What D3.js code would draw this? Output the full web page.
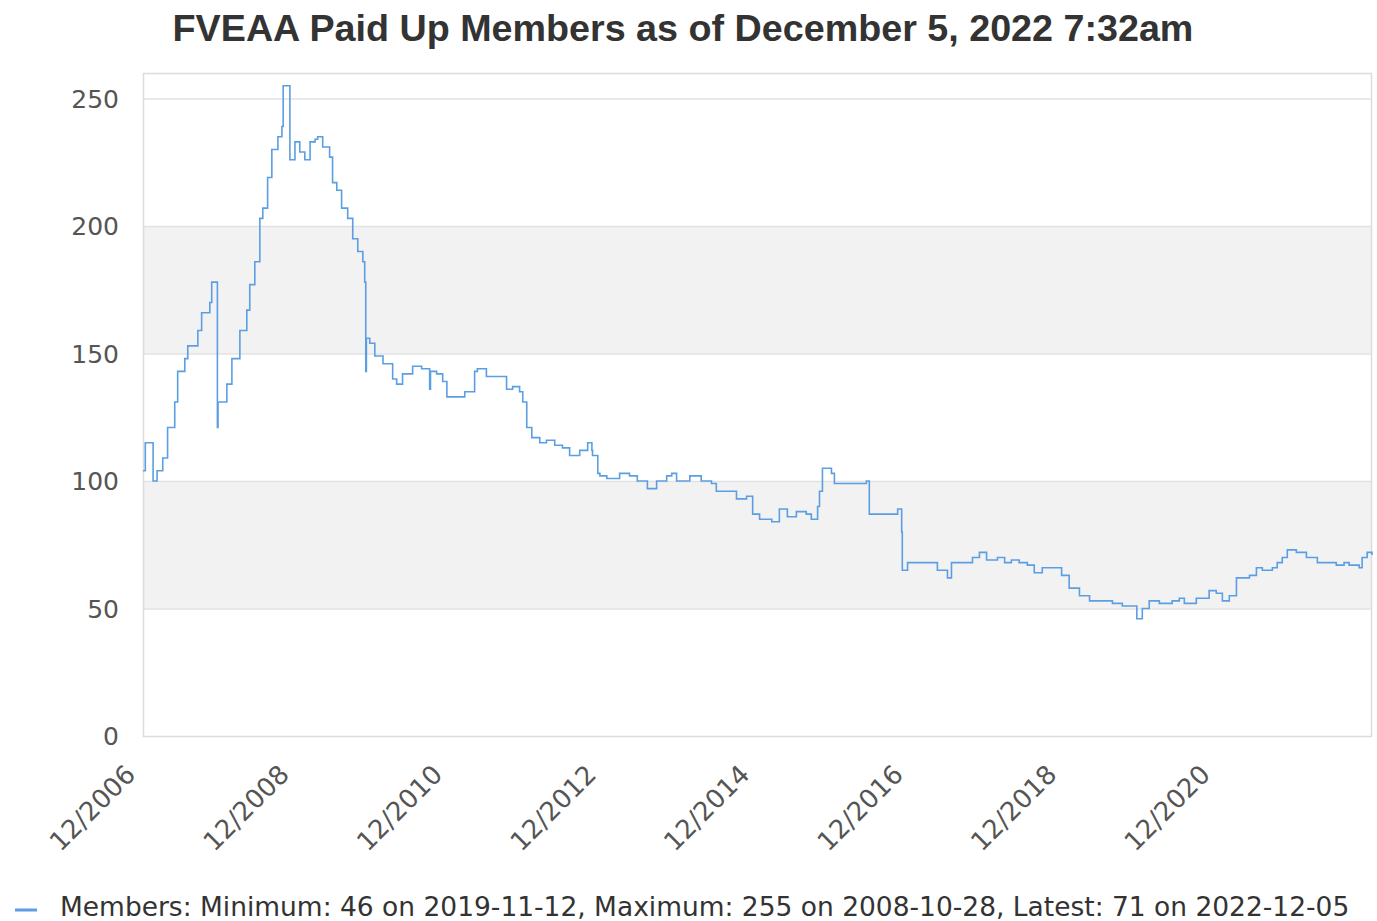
<!DOCTYPE html>
<html>
<head>
<meta charset="utf-8">
<script src="https://cdn.jsdelivr.net/npm/d3@7/dist/d3.min.js"></script>
<style>
  html, body { margin: 0; padding: 0; background: #fff; }
  svg { display: block; }
</style>
</head>
<body>
<svg id="chart" width="1377" height="921"></svg>
<script>
const titleText = "FVEAA Paid Up Members as of December 5, 2022 7:32am";
const legendText = "Members: Minimum: 46 on 2019-11-12, Maximum: 255 on 2008-10-28, Latest: 71 on 2022-12-05";

const dates = [
"2006-12-01","2006-12-10","2006-12-12","2006-12-20","2007-01-12","2007-01-18","2007-02-06","2007-03-05","2007-03-28","2007-05-01",
"2007-05-15","2007-06-18","2007-07-02","2007-08-19","2007-09-06","2007-10-15","2007-10-24","2007-11-18","2007-11-20","2007-11-23",
"2008-01-04","2008-01-28","2008-03-06","2008-04-08","2008-04-22","2008-05-16","2008-06-09","2008-06-23","2008-07-16","2008-08-05",
"2008-09-03","2008-09-22","2008-09-28","2008-10-28","2008-10-30","2008-11-23","2008-12-16","2009-01-09","2009-02-03","2009-02-27",
"2009-03-11","2009-04-04","2009-05-07","2009-05-21","2009-06-10","2009-07-03","2009-08-01","2009-08-25","2009-09-18","2009-10-12",
"2009-10-21","2009-10-26","2009-10-29","2009-11-14","2009-12-08","2010-01-16","2010-03-03","2010-03-22","2010-04-19","2010-06-06",
"2010-07-19","2010-08-16","2010-08-26","2010-08-30","2010-09-28","2010-10-27","2010-11-16","2011-01-02","2011-02-09","2011-03-03",
"2011-03-28","2011-04-10","2011-05-23","2011-07-10","2011-08-27","2011-09-25","2011-10-28","2011-11-12","2011-12-01","2011-12-25",
"2012-02-01","2012-03-04","2012-04-12","2012-05-19","2012-06-22","2012-08-09","2012-09-16","2012-10-06","2012-10-09","2012-11-03",
"2012-11-13","2012-12-16","2013-02-15","2013-04-03","2013-05-10","2013-06-27","2013-08-10","2013-09-27","2013-10-21","2013-11-13",
"2014-01-15","2014-03-10","2014-04-28","2014-05-21","2014-07-08","2014-08-25","2014-10-12","2014-11-10","2014-12-13","2015-02-09",
"2015-03-17","2015-04-24","2015-06-06","2015-07-23","2015-08-16","2015-09-15","2015-09-24","2015-10-08","2015-11-20","2015-12-04",
"2016-04-01","2016-05-04","2016-05-18","2016-09-06","2016-09-30","2016-10-19","2016-10-22","2016-11-16","2016-12-28","2017-03-01",
"2017-04-07","2017-05-25","2017-06-13","2017-08-23","2017-09-21","2017-10-24","2017-11-27","2018-01-18","2018-02-21","2018-03-25",
"2018-05-01","2018-06-09","2018-07-12","2018-08-19","2018-10-06","2018-11-19","2018-12-25","2019-02-12","2019-04-01","2019-05-17",
"2019-07-19","2019-09-04","2019-11-12","2019-12-08","2020-01-10","2020-02-27","2020-04-28","2020-06-01","2020-06-25","2020-08-21",
"2020-10-21","2020-11-24","2020-12-23","2021-01-25","2021-02-28","2021-03-28","2021-05-01","2021-06-03","2021-07-01","2021-08-18",
"2021-09-10","2021-10-04","2021-10-28","2021-12-10","2022-01-27","2022-03-20","2022-05-01","2022-06-18","2022-07-25","2022-08-18",
"2022-10-05","2022-10-19","2022-11-12","2022-12-05"
];
const members = [
104,104,115,115,115,100,104,109,121,131,
143,148,153,159,166,170,178,178,121,131,
138,148,159,167,177,186,203,207,219,230,
235,239,255,255,226,233,229,226,233,234,
235,231,227,217,214,207,203,195,190,186,
178,143,156,154,149,146,140,138,142,145,
144,144,136,143,142,139,133,133,135,135,
143,144,141,141,136,137,135,131,121,117,
115,116,114,113,110,112,115,112,110,103,
102,101,103,102,100,97,100,102,103,100,
102,100,99,96,96,93,94,87,85,84,
89,86,88,87,85,90,96,105,103,99,
99,100,87,87,89,80,65,68,68,68,
65,62,68,68,70,72,69,70,68,69,
68,67,64,66,66,63,58,55,53,53,
52,51,46,50,53,52,53,54,52,54,
57,56,53,55,62,62,63,66,65,66,
68,70,73,72,70,68,68,67,68,67,
66,70,72,71
];
const yTicks = [0, 50, 100, 150, 200, 250];
const xTickDates = ["2006-12-01","2008-12-01","2010-12-01","2012-12-01","2014-12-01","2016-12-01","2018-12-01","2020-12-01"];
const xDomain = ["2006-12-01","2022-12-05"];
const yDomain = [0, 260];

const parse = d3.timeParse("%Y-%m-%d");
const data = dates.map((d, i) => ({ date: parse(d), value: members[i] }));

const svg = d3.select("#chart");
const L = 143, R = 1372, T = 73, B = 736;

const x = d3.scaleTime().domain(xDomain.map(parse)).range([L, R]);
const y = d3.scaleLinear().domain(yDomain).range([B, T]);

// bands
const bands = [[50, 100], [150, 200]];
svg.append("g").selectAll("rect").data(bands).join("rect")
  .attr("x", L).attr("width", R - L)
  .attr("y", d => y(d[1])).attr("height", d => y(d[0]) - y(d[1]))
  .attr("fill", "#f2f2f2");

// grid
svg.append("g").selectAll("line").data(yTicks.filter(v => v > 0)).join("line")
  .attr("x1", L).attr("x2", R)
  .attr("y1", d => y(d) + 0.5).attr("y2", d => y(d) + 0.5)
  .attr("stroke", "#e2e2e2").attr("stroke-width", 1.5);

// border
svg.append("rect").attr("x", L + 0.5).attr("y", T + 0.5)
  .attr("width", R - L - 1).attr("height", B - T)
  .attr("fill", "none").attr("stroke", "#dcdcdc").attr("stroke-width", 1.5);

// y labels
svg.append("g").selectAll("text").data(yTicks).join("text")
  .attr("x", 119).attr("y", d => y(d)).attr("dy", "0.36em")
  .attr("text-anchor", "end")
  .attr("font-family", "DejaVu Sans, sans-serif").attr("font-size", 25)
  .attr("fill", "#555")
  .text(d => d);

// x labels
const fmt = d3.timeFormat("%m/%Y");
svg.append("g").selectAll("text").data(xTickDates.map(parse)).join("text")
  .attr("transform", d => `translate(${x(d) - 6},${776}) rotate(-45)`)
  .attr("text-anchor", "end")
  .attr("font-family", "DejaVu Sans, sans-serif").attr("font-size", 26)
  .attr("fill", "#555")
  .text(d => fmt(d));

// line
const line = d3.line().x(d => x(d.date)).y(d => y(d.value)).curve(d3.curveStepAfter);
svg.append("path").datum(data)
  .attr("d", line)
  .attr("fill", "none").attr("stroke", "#5c9ee4").attr("stroke-width", 1.6)
  .attr("stroke-linejoin", "miter");

// title
const title = svg.append("text")
  .attr("x", 683).attr("y", 41).attr("text-anchor", "middle")
  .attr("font-family", "Liberation Sans, Arial, sans-serif").attr("font-weight", "bold")
  .attr("font-size", 36).attr("fill", "#333")
  .text(titleText);
{
  const w = title.node().getComputedTextLength();
  title.attr("font-size", 36 * 1021 / w);
}

// legend
svg.append("line").attr("x1", 15).attr("x2", 37).attr("y1", 910).attr("y2", 910)
  .attr("stroke", "#5c9ee4").attr("stroke-width", 3);
const leg = svg.append("text")
  .attr("x", 60).attr("y", 916)
  .attr("font-family", "DejaVu Sans, sans-serif").attr("font-size", 24)
  .attr("fill", "#333")
  .text(legendText);
{
  const w = leg.node().getComputedTextLength();
  leg.attr("font-size", 24 * 1290 / w);
}
</script>
</body>
</html>
